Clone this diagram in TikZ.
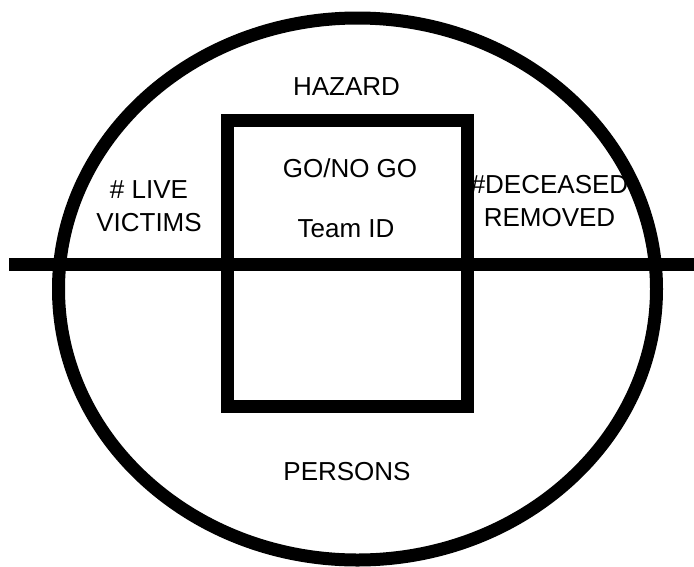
\documentclass[tikz,border=0pt]{standalone}
\usepackage{fontspec}
\setmainfont{Liberation Sans}
\begin{document}
\begin{tikzpicture}[x=1pt,y=-1pt,
  thick line/.style={draw=black,line width=13pt},
  lbl/.style={font=\fontsize{26}{31}\selectfont,anchor=base,inner sep=0pt}]
\useasboundingbox[fill=white] (0,0) rectangle (694,566);
\draw[thick line] (357.5,289) ellipse [x radius=299, y radius=271];
\draw[thick line] (9,264) -- (694,264);
\draw[thick line] (227.5,120) rectangle (467.5,406);
\node[lbl] (hazard) at (346.5,95) {HAZARD};
\node[lbl] (gonogo) at (350,177) {GO/NO GO};
\node[lbl] (teamid) at (346,237) {Team ID};
\node[lbl] (liveA) at (149,198) {\# LIVE};
\node[lbl] (liveB) at (149,231) {VICTIMS};
\node[lbl] (decA) at (549.5,193) {\#DECEASED};
\node[lbl] (decB) at (549.5,226) {REMOVED};
\node[lbl] (persons) at (347,480) {PERSONS};
\end{tikzpicture}
\end{document}
